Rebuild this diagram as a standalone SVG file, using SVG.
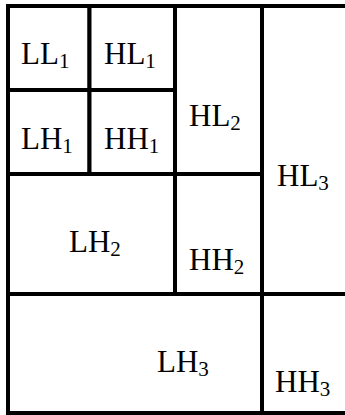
<svg xmlns="http://www.w3.org/2000/svg" width="345" height="415" viewBox="0 0 345 415">
<style>
.c{fill:#fff;stroke:#000;stroke-width:4}
.t{font-family:"Liberation Serif","Times New Roman",serif;font-size:31px;fill:#000}
.s{font-size:21px}
</style>
<rect width="345" height="415" fill="#fff"/>
<g id="LL1"><rect class="c" x="8" y="6" width="81.5" height="84"/><text class="t" x="21" y="64">LL<tspan class="s" dy="4">1</tspan></text></g>
<g id="HL1"><rect class="c" x="89.5" y="6" width="85.5" height="84"/><text class="t" x="104" y="64">HL<tspan class="s" dy="4">1</tspan></text></g>
<g id="LH1"><rect class="c" x="8" y="90" width="81.5" height="84"/><text class="t" x="21" y="149">LH<tspan class="s" dy="4">1</tspan></text></g>
<g id="HH1"><rect class="c" x="89.5" y="90" width="85.5" height="84"/><text class="t" x="104" y="149">HH<tspan class="s" dy="4">1</tspan></text></g>
<g id="HL2"><rect class="c" x="175" y="6" width="87" height="168"/><text class="t" x="189" y="126">HL<tspan class="s" dy="4">2</tspan></text></g>
<g id="LH2"><rect class="c" x="8" y="174" width="167" height="120"/><text class="t" x="69" y="252">LH<tspan class="s" dy="4">2</tspan></text></g>
<g id="HH2"><rect class="c" x="175" y="174" width="87" height="120"/><text class="t" x="189" y="270">HH<tspan class="s" dy="4">2</tspan></text></g>
<g id="HL3"><rect class="c" x="262" y="6" width="90" height="288"/><text class="t" x="277" y="186">HL<tspan class="s" dy="4">3</tspan></text></g>
<g id="LH3"><rect class="c" x="8" y="294" width="254" height="119"/><text class="t" x="157" y="372">LH<tspan class="s" dy="4">3</tspan></text></g>
<g id="HH3"><rect class="c" x="262" y="294" width="90" height="119"/><text class="t" x="275" y="392">HH<tspan class="s" dy="4">3</tspan></text></g>
<g id="connectors"></g>
</svg>
